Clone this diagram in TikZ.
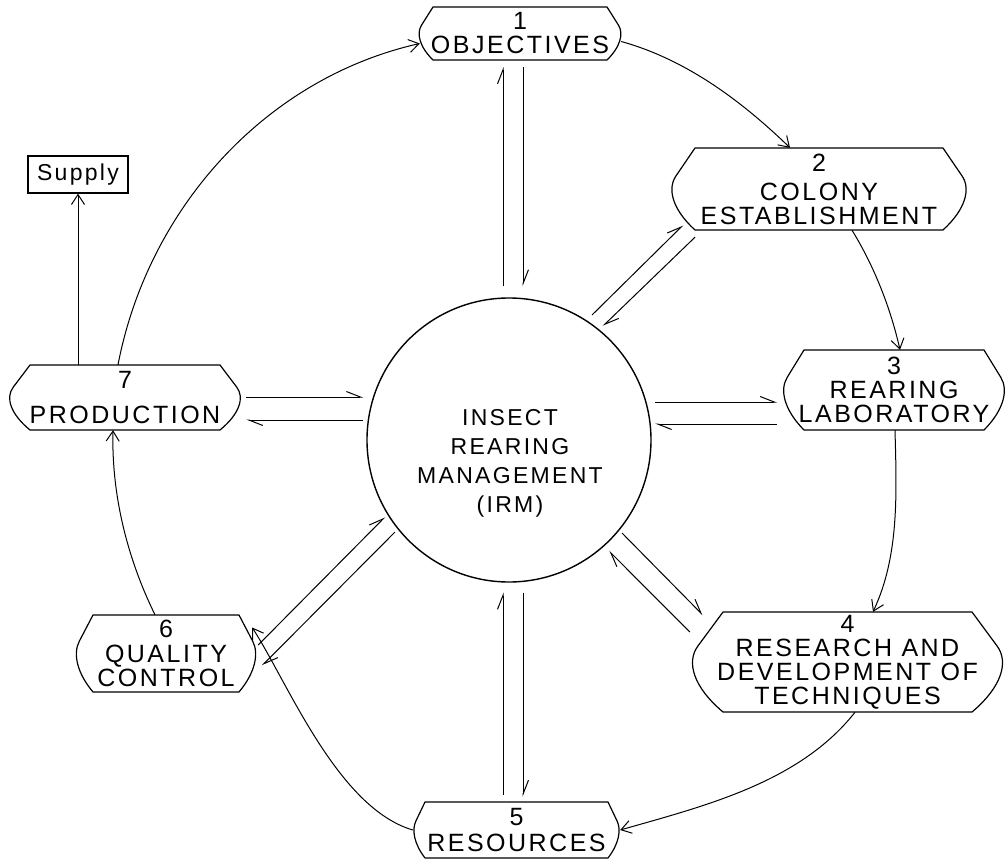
\documentclass[tikz,border=0pt]{standalone}
\usepackage{fontspec}
\usetikzlibrary{arrows.meta,calc}
\newfontfamily\lettering{Liberation Sans}[LetterSpace=10]
\newcommand\stagefont{\lettering\fontsize{25}{25}\selectfont}
\newcommand\hubfont{\lettering\fontsize{23}{29}\selectfont}
\newcommand\supplyfont{\lettering\fontsize{23}{25}\selectfont}

% stage box: flat top and bottom, chamfered and bulging ends
% #1 name, #2 cx, #3 cy, #4 width, #5 height, #6 end inset, #7 text
\newcommand\procbox[7]{%
  \pgfmathsetmacro\pbL{#2-#4/2}%
  \pgfmathsetmacro\pbR{#2+#4/2}%
  \pgfmathsetmacro\pbT{#3-#5/2}%
  \pgfmathsetmacro\pbB{#3+#5/2}%
  \node[stagetext, minimum width=#4, minimum height=#5] (#1) at (#2,#3) {#7};
  \draw[boxline] (\pbL+#6,\pbT) -- (\pbR-#6,\pbT)
    -- (\pbR-0.24*#6,\pbT+0.34*#5)
    .. controls (\pbR+0.12*#6,\pbT+0.5*#5) and (\pbR-0.1*#6,\pbT+0.75*#5) .. (\pbR-#6,\pbB)
    -- (\pbL+#6,\pbB)
    .. controls (\pbL+0.1*#6,\pbT+0.75*#5) and (\pbL-0.12*#6,\pbT+0.5*#5) .. (\pbL+0.24*#6,\pbT+0.34*#5)
    -- cycle;
}

\begin{document}
\begin{tikzpicture}[x=1pt,y=-1pt,
  stagetext/.style={inner sep=0pt, align=center, font=\stagefont},
  boxline/.style={line width=1.2pt, line join=round},
  flow/.style={line width=1pt, -{Straight Barb[length=10pt,width=13pt,line width=1pt]}},
  harp/.style={line width=1pt, -{Straight Barb[left,length=14pt,width=11pt,line width=1pt]}},
]
\fill[white] (0,0) rectangle (1007,862);
\useasboundingbox (0,0) rectangle (1007,862);

% central hub
\node[circle, draw, line width=1.4pt, minimum size=284pt, inner sep=0pt] (irm) at (509,440) {};
\node[align=center, inner sep=0pt, font=\hubfont] (irmtext) at (510,463) {INSECT\\REARING\\MANAGEMENT\\(IRM)};

% stages
\procbox{obj}{520}{33.5}{204}{53}{15}{1\\[-1pt]OBJECTIVES}
\procbox{col}{819}{189}{298}{82}{25}{2\\[4pt]COLONY\\[-1pt]ESTABLISHMENT}
\procbox{rea}{894}{390}{224}{80}{22}{3\\[-1pt]REARING\\[-1pt]LABORATORY}
\procbox{res}{847.5}{662}{315}{100}{33}{4\\[-1pt]RESEARCH AND\\[-1pt]DEVELOPMENT OF\\[-1pt]TECHNIQUES}
\procbox{rsc}{516.5}{830}{207}{56}{12}{5\\[1pt]RESOURCES}
\procbox{qc}{166}{653.5}{182}{77}{18}{6\\[0pt]QUALITY\\[-1pt]CONTROL}
\procbox{prd}{125}{397.5}{234}{65}{22}{7\\[10pt]PRODUCTION}

\node[draw, line width=1.2pt, minimum width=100pt, minimum height=37pt, inner sep=0pt, font=\supplyfont] (sup) at (78,174.5) {Supply};

% outer cycle
\draw[flow] ($(prd.north)+(-7,0)$) .. controls +(30,-156) and +(-155,35) .. ($(obj.west)+(2,10)$);
\draw[flow] ($(obj.east)+(-1,8)$) .. controls +(65,18) and +(-48,-46.5) .. ($(col.north)+(-29,0)$);
\draw[flow] ($(col.south)+(33,0)$) .. controls +(22.5,36.7) and +(-9.6,-42) .. ($(rea.north)+(6,0)$);
\draw[flow] ($(rea.south)+(1,0)$) .. controls +(1.6,62) and +(26.5,-56) .. ($(res.north)+(25.5,0)$);
\draw[flow] ($(res.south)+(7.5,0)$) .. controls +(-55,70) and +(85.7,-24.4) .. (rsc.east);
\draw[flow] (rsc.west) .. controls +(-75,-22) and +(36,56) .. ($(qc.east)+(-5,-26)$);
\draw[flow] ($(qc.north)+(-11,0)$) .. controls +(-28,-57) and +(-1.6,64) .. ($(prd.south)+(-12,0)$);

% output
\draw[flow] (sup.south |- prd.north) -- (sup.south);

% two-way links with the hub
\draw[harp] ($(irm.north)+(-6,-11)$) -- ($(obj.south)+(-17,7)$);
\draw[harp] ($(obj.south)+(3,7)$) -- ($(irm.north)+(14,-11)$);

\draw[harp] ($(irm.center)+(83,-125)$) -- ($(col.south)+(-136,-5)$);
\draw[harp] ($(col.south)+(-124,7)$) -- ($(irm.center)+(94,-114)$);

\draw[harp] ($(irm.center)+(146,-38)$) -- ($(rea.west)+(-5,12)$);
\draw[harp] ($(rea.west)+(-5,34)$) -- ($(irm.center)+(146,-16)$);

\draw[harp] ($(irm.center)+(113,93)$) -- ($(res.west)+(13,-47)$);
\draw[harp] ($(res.west)+(0,-30)$) -- ($(irm.center)+(100,111)$);

\draw[harp] ($(rsc.north)+(-13.5,-7)$) -- ($(irm.south)+(-6,10)$);
\draw[harp] ($(irm.south)+(14,10)$) -- ($(rsc.north)+(6.5,-5)$);

\draw[harp] ($(qc.east)+(1,-8.5)$) -- ($(irm.center)+(-124,77)$);
\draw[harp] ($(irm.center)+(-114,92)$) -- ($(qc.east)+(5,12)$);

\draw[harp] ($(prd.east)+(4,-0.5)$) -- ($(irm.center)+(-146,-43)$);
\draw[harp] ($(irm.center)+(-146,-20)$) -- ($(prd.east)+(4,22.5)$);
\end{tikzpicture}
\end{document}
